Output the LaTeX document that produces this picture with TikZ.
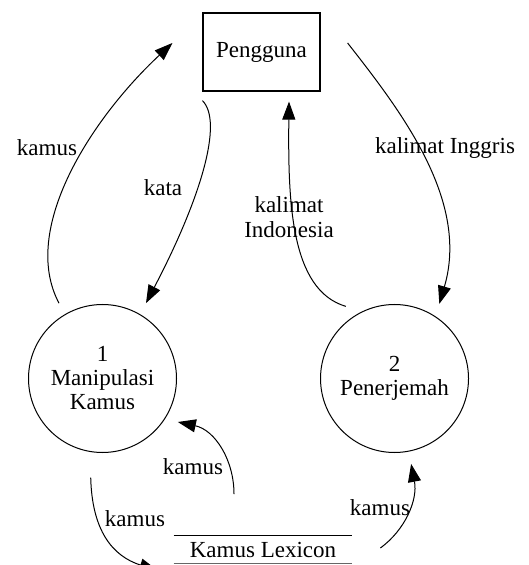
\documentclass[tikz,border=0pt]{standalone}
\usepackage{fontspec}
\setmainfont{Liberation Serif}
\usetikzlibrary{arrows.meta}
\begin{document}
\begin{tikzpicture}[x=0.5pt,y=-0.5pt,
  every node/.style={font=\fontsize{11.5}{12}\selectfont, text=black},
  entity/.style={draw, line width=0.6pt, minimum width=58.5pt, minimum height=39pt, inner sep=0pt},
  process/.style={draw, circle, line width=0.5pt, minimum size=74pt, inner sep=0pt,
                  outer sep=6.5pt, align=center},
  datastore/.style={minimum width=89pt, minimum height=13.5pt, inner sep=0pt},
  flow/.style={line width=0.5pt, -{Triangle[length=9pt,width=6.5pt]}},
  flowlabel/.style={inner sep=1pt}
]
\useasboundingbox (0,0) rectangle (528,565);

% external entity, processes and data store
\node[entity] (user) at (261.5,52) {Pengguna};
\node[process] (p1) at (102.5,378.5) {1\\Manipulasi\\Kamus};
\node[process] (p2) at (394.5,378.5) {2\\Penerjemah};
\node[datastore] (store) at (263,549.5) {Kamus Lexicon};
\draw[line width=0.6pt] (store.north west) -- (store.north east);
\draw[line width=0.4pt, black!60] (store.south west) -- (store.south east);

% data flows
\draw[flow] (p1.120) .. controls (20,230) and (90,120) .. ([shift={(-30,-9)}]user.west);
\draw[flow] ([shift={(0,9)}]user.south west) .. controls (224,122) and (200,200) .. (p1.60);
\draw[flow] (p2.124) .. controls (290,290) and (288,200) .. ([shift={(27.5,10)}]user.south);
\draw[flow] ([shift={(27,-9)}]user.east) .. controls (400,110) and (470,200) .. (p2.59);
\draw[flow] ([shift={(-29,-41.5)}]store.north) .. controls (234,460) and (215,430) .. (p1.-30);
\draw[flow, shorten <=6.5pt] (p1.-98) .. controls (92,530) and (112,556) .. ([shift={(-16,21)}]store.west);
\draw[flow] ([shift={(28,-1.5)}]store.east) .. controls (405,530) and (418,500) .. (p2.-79);

% flow labels
\node[flowlabel] (l1) at (47,148) {kamus};
\node[flowlabel] (l2) at (163,188) {kata};
\node[flowlabel, align=center, font=\fontsize{11.5}{12.5}\selectfont] (l3) at (289,217) {kalimat\\Indonesia};
\node[flowlabel] (l4) at (445,148) {kalimat Inggris};
\node[flowlabel] (l5) at (193,467) {kamus};
\node[flowlabel] (l6) at (135,519) {kamus};
\node[flowlabel] (l7) at (380,508) {kamus};
\end{tikzpicture}
\end{document}
